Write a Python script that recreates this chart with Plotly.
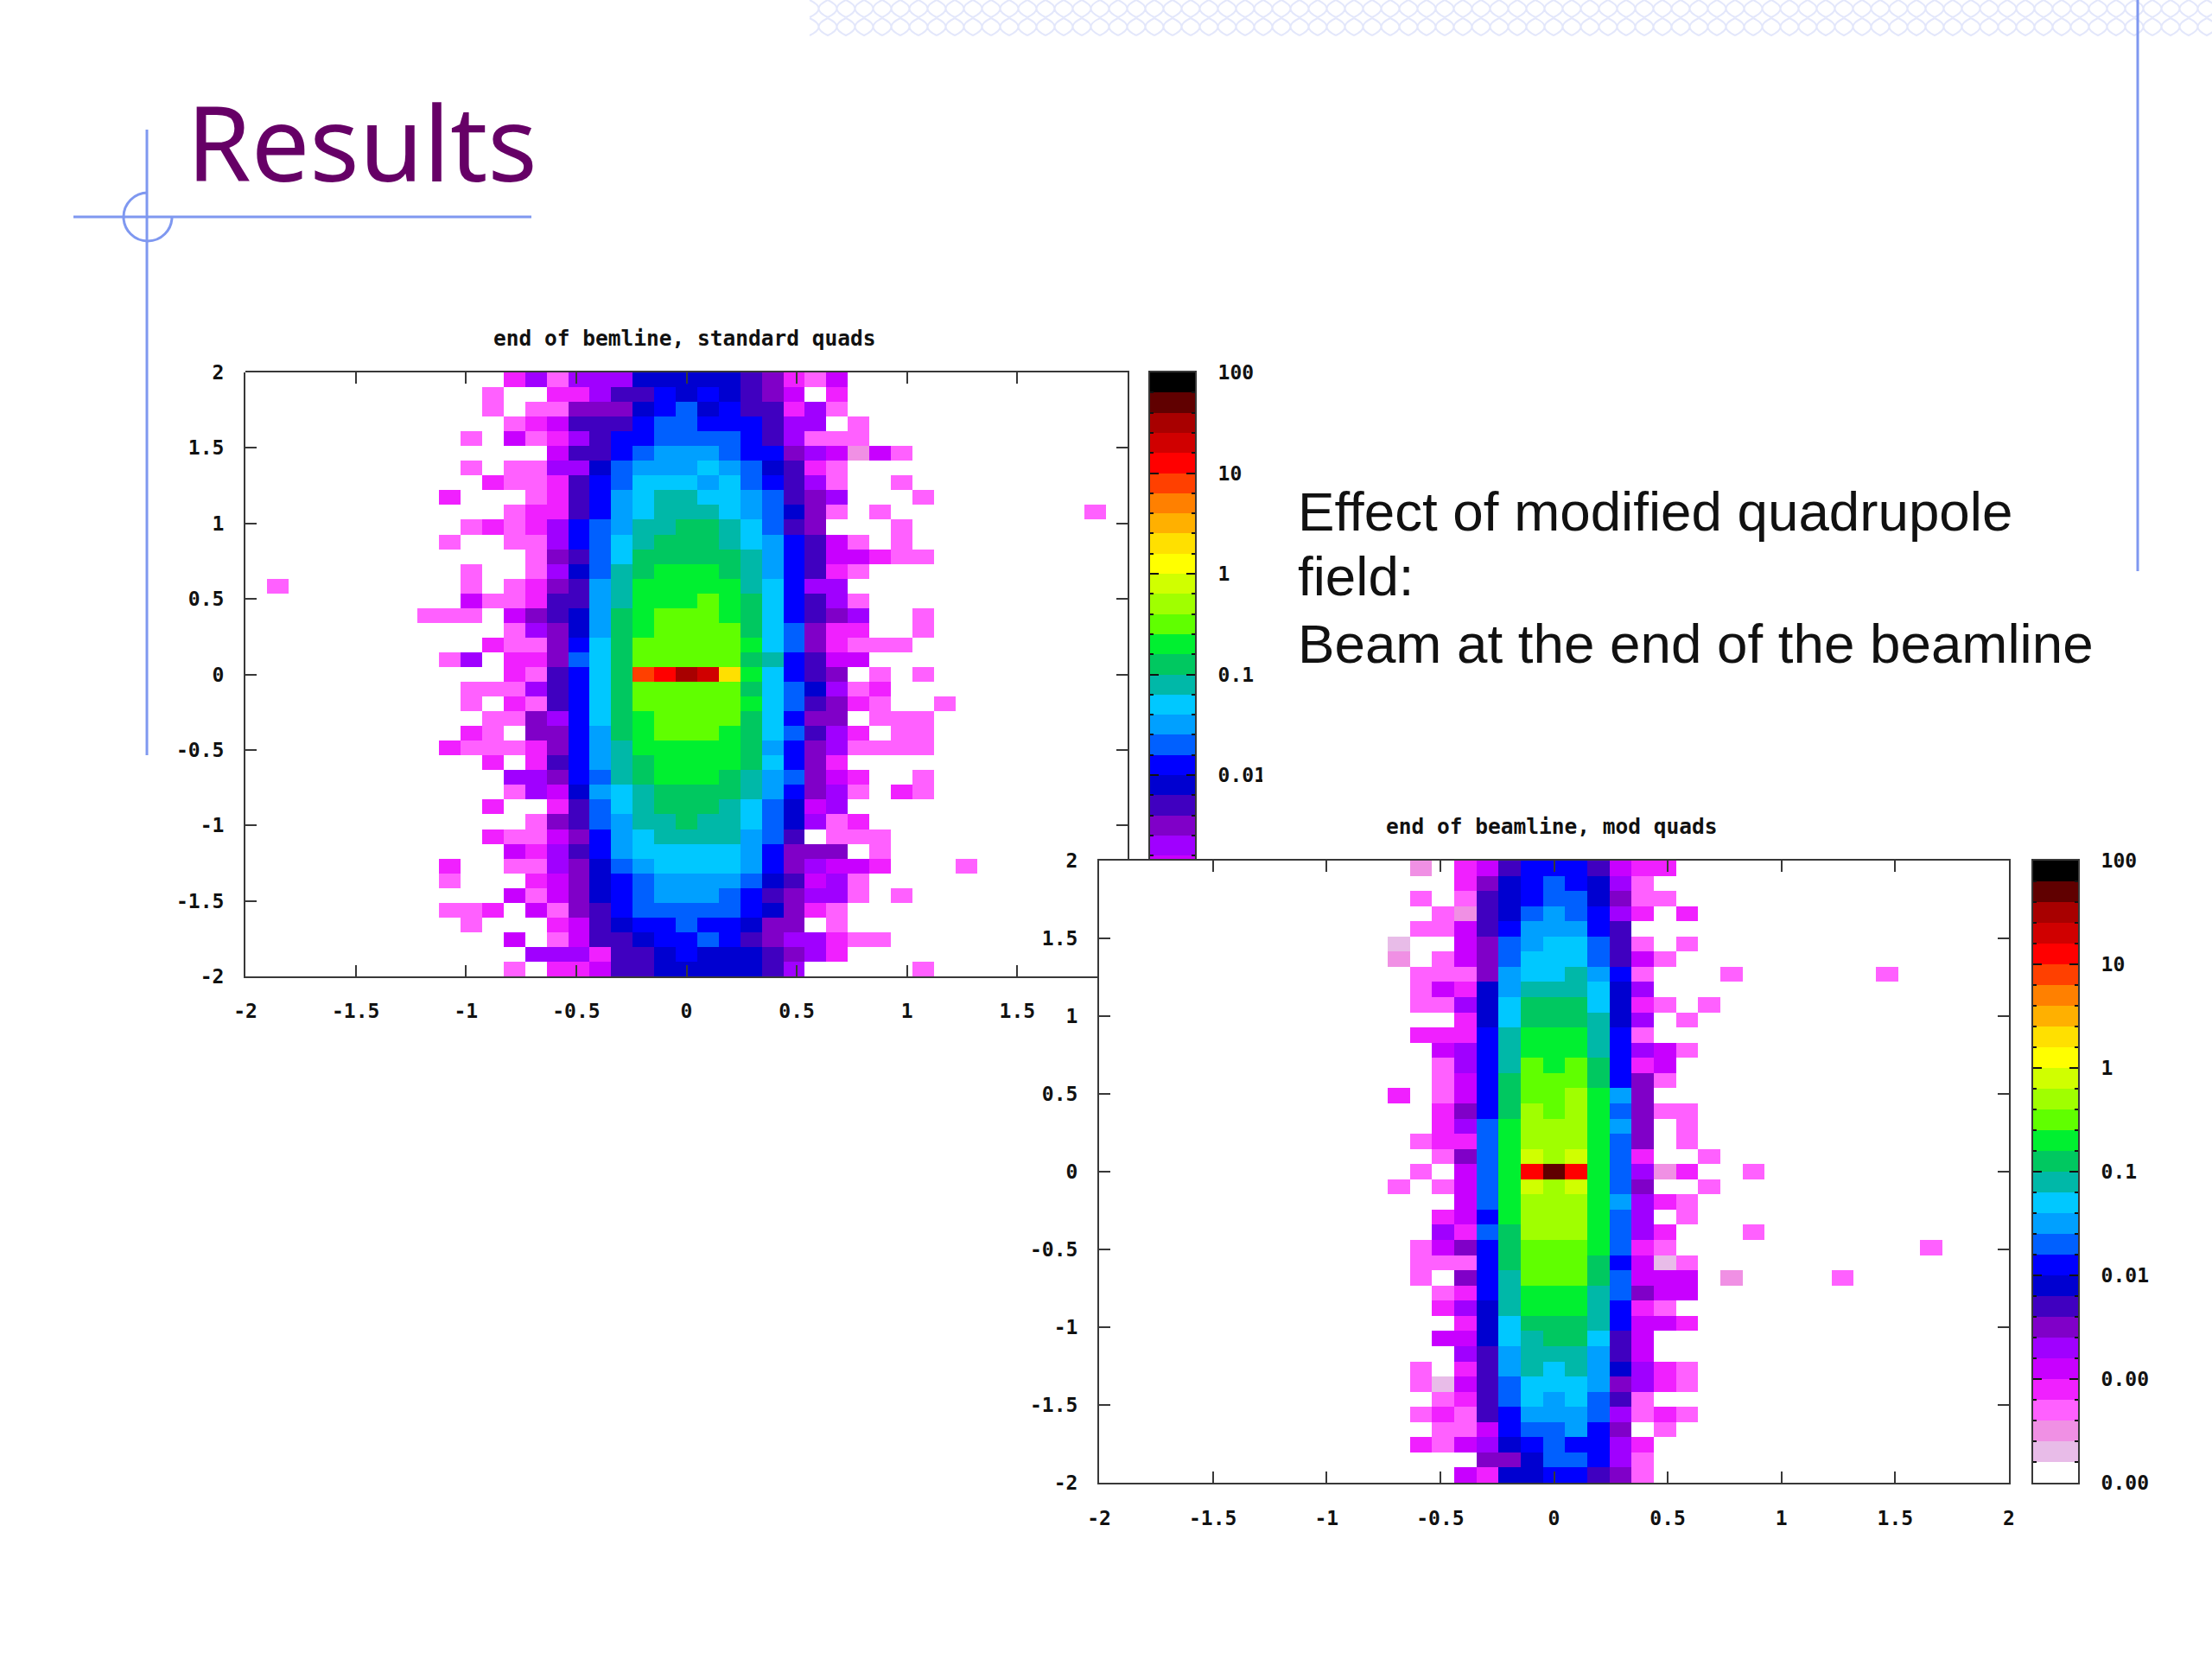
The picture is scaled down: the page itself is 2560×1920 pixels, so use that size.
import plotly.graph_objects as go

W, H = 2560, 1920

# colour levels of the gnuplot palette, five per decade from 0.0001 to 100
palette = ["#ffffff", "#e8bce8", "#f090e4", "#ff60ff", "#f020ff", "#c800ff", "#a000ff", "#8000c8", "#4000c0", "#0000d0",
           "#0000ff", "#0060ff", "#00a0ff", "#00c8ff", "#00b8a8", "#00c860", "#00f030", "#60ff00", "#a0ff00", "#d0ff00",
           "#ffff00", "#ffe000", "#ffb000", "#ff8000", "#ff4000", "#ff0000", "#d00000", "#a80000", "#600000", "#000000"]
level_codes = ".abcdefghijklmnopqrstuvwxyzABC"
bar_log = [-3.9, -3.7, -3.5, -3.3, -3.1, -2.9, -2.7, -2.5, -2.3, -2.1, -1.9, -1.7, -1.5, -1.3, -1.1,
           -0.9, -0.7, -0.5, -0.3, -0.1, 0.1, 0.3, 0.5, 0.7, 0.9, 1.1, 1.3, 1.5, 1.7, 1.9]

xy_ticks = [-2, -1.5, -1, -0.5, 0, 0.5, 1, 1.5, 2]
xy_labels = ["-2", "-1.5", "-1", "-0.5", "0", "0.5", "1", "1.5", "2"]
bar_ticks = [2, 1, 0, -1, -2, -3, -4]
bar_labels = ["100", "10", "1", "0.1", "0.01", "0.001", "0.0001"]
bar_minor = [1.8, 1.6, 1.4, 1.2, 0.8, 0.6, 0.4, 0.2, -0.2, -0.4, -0.6, -0.8, -1.2, -1.4, -1.6, -1.8,
             -2.2, -2.4, -2.6, -2.8, -3.2, -3.4, -3.6, -3.8]

# one char per bin, top row first, '.' is an empty bin
standard_rows = [
    "............dfcfffiiiiihgdce",
    "...........c..ddfhhjijihge.d",
    "...........c.ccgggijkijhhdfc",
    "............cdehhhjkkjjjhff.c",
    "..........c.ecdfhjjkkkkjhfccc",
    "..............ehhjklllkjjgfebec",
    "..........c.ccffiklllmlkihdc",
    "...........dccdhjkmmmlmkjhfc..c",
    ".........d...cdhjlmnnmmlkhgf...c",
    "............cddhjlmnnnmlkigc.c.........c",
    "..........cdcdfjklnnoonmkhg...c",
    ".........c..ccfjkmnooonmljhec.c",
    ".............cghkmooooonljheedcc",
    "..........c..cfiknoppponljhdc",
    ".c........c.cdghlnpppppnmjff",
    "..........eccdhhlnpppqpomjhfc",
    "........ccc.eghilopqqqpomjhgf..c",
    "............cfgilopqqqqomkgdd..c",
    "...........dccgjmoqqqqqpmkgdccc",
    ".........cf.ddgkmoqqqqqonjhee",
    "............dchjmoxyAzupmjhg.c.c",
    "..........cccfhjmoqqqqqomkifcd",
    "..........c.dchjmoqqqqqpmkhgdc..c",
    "...........ccgfjmopqqqqomjgg.ccc",
    "..........dc.ggjlopqqqpomkhfd.cc",
    ".........dcccdgjlnpppppoljgfcccc",
    "...........d.dhjlnoppppomjgd",
    "............ffgjknopppon" + "lkged..c",
    "............cfeilmnoooonljgfc.dc",
    "...........d..dhkmnooonmkief",
    ".............cghklnnonnmkifcd",
    "...........dccegjlmnnnnlkh.ccc",
    "............edfhjlmmmmmljggg.c",
    ".........d..ccfgiklmmmmljgfeed...c",
    ".........c...degijkllllkihefc",
    "............ecegijklllkjhgffc.c",
    ".........ccd.ecghjkkkkkjigdc",
    "..........c...dehijjkjjigg.c",
    "............e.cehhijjkjhgffdcc",
    ".............fffdhhijiiihgfd",
    "............c.ddehhiiiiihf.....c",
]

modified_rows = [
    "..............b.dehjjjhedd",
    "................dgijkjifc",
    "..............c.chijkkigcc",
    "...............cbhiklkjfd.d",
    "..............ccehjllljh",
    ".............a..egklmmkhc.c",
    ".............b.cegkmmmkhec",
    "..............cccglmmnljc...c......c",
    "..............cedilnnnmif",
    "..............ccfimooomidc.c",
    "................dimooonif.c",
    "..............dddjnpppnjc",
    "...............efjnpppnjfec",
    "...............cfjnqpqojde",
    "...............cejoqqqojgc",
    ".............d.cejoqqrplg",
    "...............dgjorqrpkgcc",
    "...............dfkprrrplg.c",
    "..............cddkprrrpkg.c",
    "...............cgkpsrspkd..c",
    "..............c.ekpyBypkfbd..c",
    ".............c.cekpsrspkg..c",
    "................ekprrrplfdc",
    "...............dejprrrpkf.c",
    "...............fdkorrrpkfd...c",
    "..............cegjoqqqpkdc...........c",
    "..............cccjoqqqojeac",
    "..............c.gjnqqqokeee.b....c",
    "...............cdjnpppnkgee",
    "...............dfinpppnjdc",
    "................dimooonjeed",
    "...............eeimnoomhe",
    "................fhlnnnlhe",
    "..............c.dhlnmnlifdc",
    "..............caehkmmmlgfdc",
    "...............cdhkmlmkhc",
    "..............cdchjlllkfcdc",
    "...............ccejkkljg.c",
    "..............dcefijkjjfd",
    ".................ggikkjfc",
    "................ediijjhgc",
]

N_BINS = 41
DARK = "#383838"
BLUE = "#7f98f0"
MONO = "DejaVu Sans Mono"


def decode(rows):
    # log10 of the bin value, middle of the colour level
    z = []
    for row in rows:
        row = row.ljust(N_BINS, ".")
        z.append([None if c == "." else -4 + (level_codes.index(c) + 0.5) / 5 for c in row])
    return z


def dom_x(a, b):
    return [a / W, b / W]


def dom_y(top, bottom):
    return [1 - bottom / H, 1 - top / H]


def px(x):
    return round(x / W, 5)


def py(y):
    return round(1 - y / H, 5)


colorscale = []
for i, c in enumerate(palette):
    colorscale.append([i / 30, c])
    colorscale.append([(i + 1) / 30, c])

tick_font = dict(family=MONO, size=23, color="#111111", weight="bold")


def main_heat(rows, xa, ya):
    return go.Heatmap(z=decode(rows), x0=-2 + 2 / N_BINS, dx=4 / N_BINS, y0=2 - 2 / N_BINS, dy=-4 / N_BINS,
                      colorscale=colorscale, zmin=-4, zmax=2, showscale=False, xaxis=xa, yaxis=ya)


def bar_heat(xa, ya):
    return go.Heatmap(z=[[v] for v in bar_log], x=[0], y=bar_log, colorscale=colorscale, zmin=-4, zmax=2,
                      showscale=False, xaxis=xa, yaxis=ya)


def empty_trace(xa, ya):
    return go.Scatter(x=[None], y=[None], mode="lines", showlegend=False, hoverinfo="skip", xaxis=xa, yaxis=ya)


frame = dict(showline=True, linecolor=DARK, linewidth=2, showgrid=False, zeroline=False,
             ticks="inside", ticklen=13, tickwidth=2, tickcolor=DARK, tickmode="array",
             tickvals=xy_ticks, ticktext=xy_labels, tickfont=tick_font, tickangle=0)

fig = go.Figure()
fig.add_trace(main_heat(standard_rows, "x", "y"))
fig.add_trace(empty_trace("x2", "y2"))
fig.add_trace(empty_trace("x3", "y3"))
fig.add_trace(bar_heat("x4", "y4"))
fig.add_trace(main_heat(modified_rows, "x5", "y5"))
fig.add_trace(bar_heat("x6", "y6"))

# the second plot sits over the corner of the first, so the first one's frame is split in two axis pairs
L_LEFT, L_RIGHT, L_TOP, L_BOTTOM = 284, 1305, 431, 1130
R_LEFT, R_RIGHT, R_TOP, R_BOTTOM = 1272, 2325, 996, 1716
cut_x = -2 + 4 * (R_LEFT - L_LEFT) / (L_RIGHT - L_LEFT)
cut_y = 2 - 4 * (R_TOP - L_TOP) / (L_BOTTOM - L_TOP)
cut_bar = 2 - 6 * (R_TOP - L_TOP) / (L_BOTTOM - L_TOP)

bar_y = dict(showline=True, mirror="ticks", linecolor=DARK, linewidth=2, showgrid=False, zeroline=False,
             ticks="inside", ticklen=10, tickwidth=2, tickcolor="#111111", tickmode="array", tickvals=bar_ticks,
             ticktext=bar_labels, tickfont=tick_font, side="right", ticklabelstandoff=20,
             minor=dict(ticks="inside", ticklen=4, tickwidth=2, tickcolor="#111111", tickvals=bar_minor))

fig.update_layout(
    width=W, height=H, margin=dict(l=0, r=0, t=0, b=0, autoexpand=False), autosize=False,
    paper_bgcolor="white", plot_bgcolor="rgba(0,0,0,0)", showlegend=False,
    xaxis=dict(domain=dom_x(L_LEFT, L_RIGHT), range=[-2, 2], visible=False, anchor="y"),
    yaxis=dict(domain=dom_y(L_TOP, L_BOTTOM), range=[-2, 2], visible=False, anchor="x"),
    xaxis2=dict(frame, domain=dom_x(L_LEFT, R_LEFT), range=[-2, cut_x], anchor="y2", ticklabelstandoff=18),
    yaxis2=dict(frame, domain=dom_y(L_TOP, L_BOTTOM), range=[-2, 2], anchor="x2", ticklabelstandoff=18),
    xaxis3=dict(frame, domain=dom_x(L_LEFT, L_RIGHT), range=[-2, 2], anchor="y3", side="top", showticklabels=False),
    yaxis3=dict(frame, domain=dom_y(L_TOP, R_TOP), range=[cut_y, 2], anchor="x3", side="right", showticklabels=False),
    xaxis4=dict(domain=dom_x(1331, 1383), range=[-0.5, 0.5], anchor="y4", side="top", showline=True, linecolor=DARK,
                linewidth=2, showticklabels=False, ticks="", showgrid=False, zeroline=False),
    yaxis4=dict(bar_y, domain=dom_y(L_TOP, R_TOP), range=[cut_bar, 2], anchor="x4"),
    xaxis5=dict(frame, domain=dom_x(R_LEFT, R_RIGHT), range=[-2, 2], anchor="y5", mirror="ticks", ticklabelstandoff=19),
    yaxis5=dict(frame, domain=dom_y(R_TOP, R_BOTTOM), range=[-2, 2], anchor="x5", mirror="ticks", ticklabelstandoff=18),
    xaxis6=dict(domain=dom_x(2353, 2405), range=[-0.5, 0.5], anchor="y6", showline=True, mirror=True, linecolor=DARK,
                linewidth=2, showticklabels=False, ticks="", showgrid=False, zeroline=False),
    yaxis6=dict(bar_y, domain=dom_y(R_TOP, R_BOTTOM), range=[-4, 2], anchor="x6"),
)


def note(text, x, y, size, family, color="#111111", xanchor="center", weight="normal"):
    fig.add_annotation(text=text, x=x / W, y=1 - y / H, xref="paper", yref="paper", showarrow=False, align="left",
                       xanchor=xanchor, yanchor="middle",
                       font=dict(family=family, size=size, color=color, weight=weight))


note("end of bemline, standard quads", 792, 392, 24.5, MONO, weight="bold")
note("end of beamline, mod quads", 1796, 956, 24.5, MONO, weight="bold")
note("Results", 214, 163, 120, "Noto Sans", color="#660066", xanchor="left")
note("Effect of modified quadrupole", 1500, 591, 63.7, "Liberation Sans", xanchor="left")
note("field:", 1500, 666, 63.7, "Liberation Sans", xanchor="left")
note("Beam at the end of the beamline", 1500, 745, 63.7, "Liberation Sans", xanchor="left")


def line(x0, y0, x1, y1, color=BLUE, width=3):
    fig.add_shape(type="line", xref="paper", yref="paper", x0=px(x0), y0=py(y0), x1=px(x1), y1=py(y1),
                  line=dict(color=color, width=width), layer="above")


# slide template decoration
line(170, 150, 170, 874)
line(85, 251, 615, 251)
line(2474, 0, 2474, 661)

cx, cy, r = 171, 251, 28
k = 0.5523 * r
arc = "M {} {}".format(px(cx), py(cy - r))
for p in [(cx - k, cy - r, cx - r, cy - k, cx - r, cy), (cx - r, cy + k, cx - k, cy + r, cx, cy + r),
          (cx + k, cy + r, cx + r, cy + k, cx + r, cy)]:
    arc += " C {} {} {} {} {} {}".format(px(p[0]), py(p[1]), px(p[2]), py(p[3]), px(p[4]), py(p[5]))
fig.add_shape(type="path", xref="paper", yref="paper", path=arc, line=dict(color=BLUE, width=3), layer="above")

hatch = ""
x = 937
while x < W:
    for top in (0, 21):
        hatch += "M {0} {1} Q {2} {3} {0} {4} ".format(px(x), py(top), px(x + 21), py(top + 10), py(top + 20))
        hatch += "M {0} {1} Q {2} {3} {0} {4} ".format(px(x + 21), py(top), px(x), py(top + 10), py(top + 20))
    x += 21
fig.add_shape(type="path", xref="paper", yref="paper", path=hatch, line=dict(color="#e3e7fb", width=2), layer="below")

# colour bar labels are cut off by the edge of the pasted image
for x0, x1, y0, y1 in [(1461, 1495, 880, 920), (2487, 2560, 1000, 1760)]:
    fig.add_shape(type="rect", xref="paper", yref="paper", x0=px(x0), x1=px(x1), y0=py(y0), y1=py(y1),
                  fillcolor="white", line_width=0, layer="above")

fig.write_html("out.html", config={"displayModeBar": False}, post_script="document.body.style.margin='0';")
